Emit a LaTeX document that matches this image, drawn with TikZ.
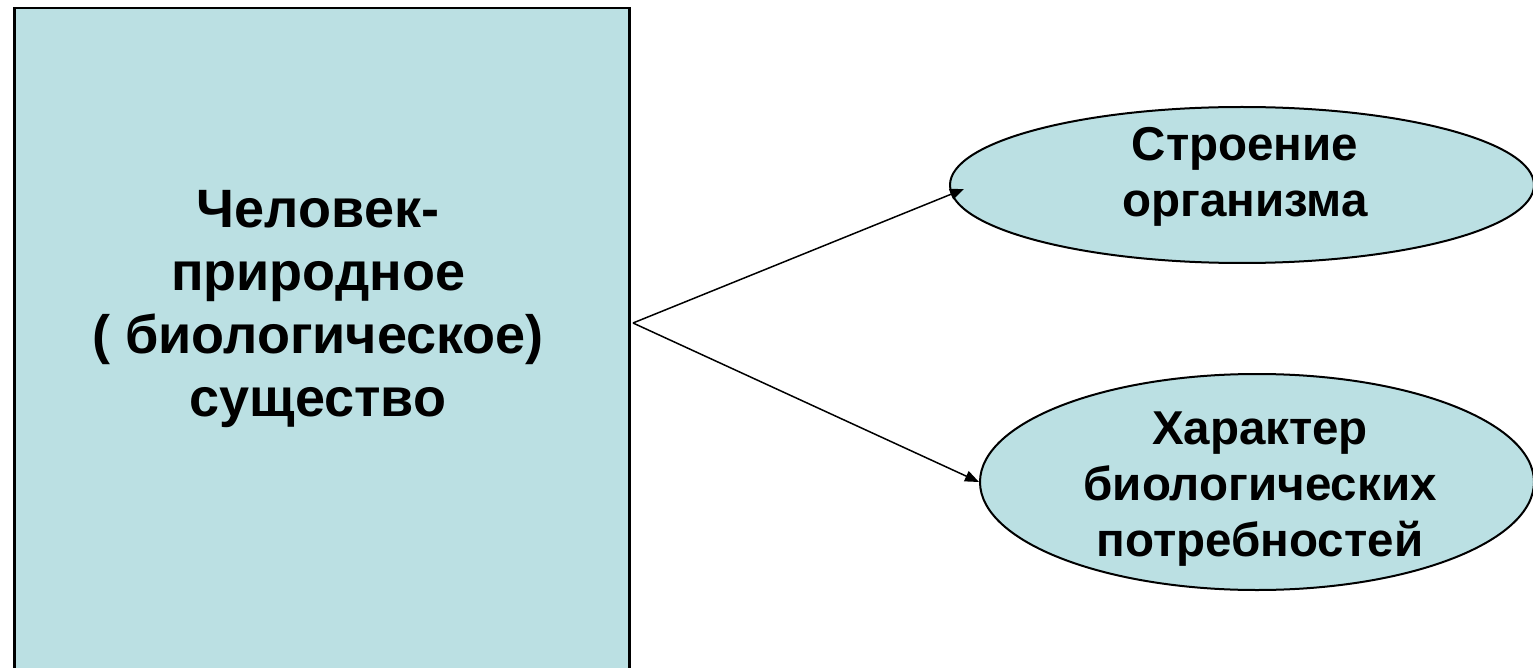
\documentclass[tikz,border=0pt]{standalone}
\usepackage{fontspec}
\setmainfont{Liberation Sans}
\usetikzlibrary{arrows.meta,shapes.geometric}
\definecolor{boxfill}{HTML}{BBE0E3}
\tikzset{
  bigbox/.style={draw=black, line width=2.5pt, fill=boxfill, inner sep=0pt},
  oval/.style={ellipse, draw=black, line width=2pt, fill=boxfill, inner sep=0pt},
  bigtext/.style={align=center, font=\fontsize{54}{62.7}\selectfont\bfseries, inner sep=0pt},
  ovaltext/.style={align=center, font=\fontsize{47.5}{56}\selectfont\bfseries, inner sep=0pt},
  link/.style={line width=1.5pt, -{Triangle[length=14pt,width=11pt]}}
}
\begin{document}
\begin{tikzpicture}[x=1pt,y=-1pt]
\useasboundingbox (0,0) rectangle (1533,668);
\clip (0,0) rectangle (1533,668);
\node[bigbox, minimum width=615pt, minimum height=700pt, anchor=north west] (man) at (13,7) {};
\node[bigtext] (mantext) at (318,309) {Человек-\\природное\\( биологическое)\\существо};
\node[oval, minimum width=584pt, minimum height=156pt] (e1) at (1242,185) {};
\node[ovaltext] (e1text) at (1245,177) {Строение\\организма};
\node[oval, minimum width=554pt, minimum height=216pt] (e2) at (1257,482) {};
\node[ovaltext] (e2text) at (1260,489) {Характер\\биологических\\потребностей};
\coordinate (fork) at (633,323);
\coordinate (t1) at (964,189);
\draw[link] (fork) -- (t1);
\draw[link] (fork) -- (e2.west);
\end{tikzpicture}
\end{document}
